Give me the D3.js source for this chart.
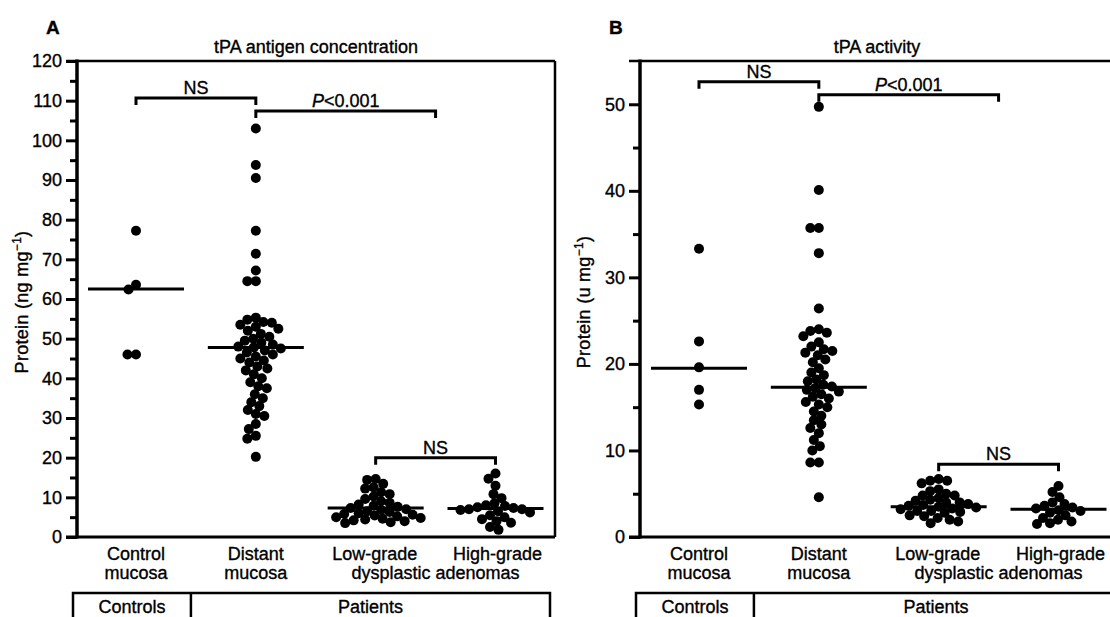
<!DOCTYPE html>
<html><head><meta charset="utf-8">
<script src="https://cdn.jsdelivr.net/npm/d3@7/dist/d3.min.js"></script>
<style>
body{margin:0;background:#fff;}
svg{display:block;font-family:"Liberation Sans",Arial,Helvetica,sans-serif;}
text{fill:#000;stroke:#000;stroke-width:0.35px;}
</style></head>
<body><svg id="chart" width="1110" height="617"></svg>
<script>
// ---------- data ----------
const categories = ["Control mucosa", "Distant mucosa", "Low-grade dysplastic", "High-grade adenomas"];
const catLine1 = ["Control", "Distant", "Low-grade", "High-grade"];
const catLine2 = ["mucosa", "mucosa"];
const adenomaLine2 = "dysplastic adenomas";
const groupLabels = ["Controls", "Patients"];

// Panel A: tPA antigen concentration (ng/mg)
const antigenTicks = [0, 10, 20, 30, 40, 50, 60, 70, 80, 90, 100, 110, 120];
const antigenControl = [77.2, 63.6, 62.4, 46.0, 46.0];
const antigenDistant = [103, 93.8, 90.5, 77.2, 71.4, 67.2, 64.5, 64.5,
  55.3, 54.8, 54.2, 54.0, 53.5, 53.0, 52.5, 52.0, 51.2, 50.5, 50.0, 49.5, 49.0, 48.5, 48.0, 47.8,
  47.5, 47.0, 46.5, 46.0, 45.5, 45.0, 44.5, 44.0, 43.0, 42.5, 42.0, 41.0, 40.0, 39.0, 38.0, 37.5,
  36.0, 35.0, 34.0, 33.0, 32.0, 31.0, 30.5, 28.5, 27.2, 25.5, 24.8, 20.2];
const antigenLow = [14.6, 14.4, 13.4, 12.5, 12.2, 11.3, 10.8, 10.2, 9.6, 9.0, 8.6, 8.2, 7.9, 7.6,
  7.3, 7.0, 6.8, 6.5, 6.3, 6.0, 5.8, 5.6, 5.4, 5.2, 5.0, 4.8, 4.6, 4.4, 4.2, 4.0, 3.7, 3.5];
const antigenHigh = [16.0, 14.7, 12.9, 10.8, 9.8, 8.5, 8.0, 7.8, 7.5, 7.3, 7.0, 7.0, 6.8, 6.5, 6.2,
  5.5, 5.0, 4.5, 4.0, 3.6, 2.5, 1.8];
const antigenMedians = [62.5, 47.8, 7.3, 7.2];

// Panel B: tPA activity (u/mg)
const activityTicks = [0, 10, 20, 30, 40, 50];
const activityControl = [33.3, 22.6, 19.6, 17.0, 15.3];
const activityDistant = [49.7, 40.1, 35.7, 35.7, 32.8, 26.4, 24.0, 23.8, 23.6, 23.2, 22.5, 22.0, 21.7,
  21.5, 21.3, 21.0, 20.5, 20.2, 19.5, 19.0, 18.7, 18.2, 18.0, 17.6, 17.4, 17.2, 17.0, 16.8, 16.5,
  16.2, 16.0, 15.6, 15.3, 15.0, 14.5, 14.0, 13.5, 13.0, 12.6, 12.0, 11.2, 10.5, 10.0, 8.6, 8.6, 4.6];
const activityLow = [6.7, 6.5, 6.5, 6.2, 5.5, 5.3, 5.0, 4.8, 4.8, 4.5, 4.3, 4.2, 4.0, 4.0, 3.8, 3.7,
  3.6, 3.5, 3.4, 3.3, 3.2, 3.0, 3.0, 2.9, 2.8, 2.5, 2.4, 2.2, 2.0, 1.8, 1.6];
const activityHigh = [5.9, 5.2, 4.6, 4.0, 3.8, 3.6, 3.4, 3.3, 3.1, 3.0, 2.8, 2.5, 2.2, 2.0, 1.8,
  1.6, 1.5];
const activityMedians = [19.5, 17.3, 3.5, 3.2];

// significance brackets: [fromIndex, toIndex, level, label]
const antigenBrackets = [[0, 1, 110.7, "NS"], [1, 2.5, 107.4, "P<0.001"], [2, 3, 20.0, "NS"]];
const activityBrackets = [[0, 1, 52.6, "NS"], [1, 2.5, 51.1, "P<0.001"], [2, 3, 8.4, "NS"]];

// ---------- drawing ----------
const svg = d3.select("#chart");
svg.append("rect").attr("width", 1110).attr("height", 617).attr("fill", "#fff");
const FS = 18;

function swarm(values, y, d) {
  const pts = values.map(v => ({v, y: y(v)})).sort((a, b) => a.y - b.y);
  const placed = [];
  pts.forEach(p => {
    for (let k = 0; k < 400; k++) {
      const off = (k % 2 === 0 ? 1 : -1) * Math.ceil(k / 2) * 0.5;
      if (placed.every(q => (q.x - off) ** 2 + (q.y - p.y) ** 2 >= d * d)) { p.x = off; break; }
    }
    placed.push(p);
  });
  return pts;
}

function panel(cfg) {
  const W = 478, top = 61, bottom = 537;
  const g = svg.append("g").attr("transform", `translate(${cfg.left},0)`);
  const y = d3.scaleLinear().domain([0, cfg.max]).range([bottom, top]);
  const x = d3.scalePoint().domain(categories).range([59, 418.5]);
  const xi = i => { const a = Math.floor(i), f = i - a;
    return f === 0 ? x(categories[a]) : x(categories[a]) * (1 - f) + x(categories[a + 1]) * f; };

  // minor ticks
  const minor = d3.range(5, cfg.max, 10);
  g.append("g").call(d3.axisLeft(y).tickValues(minor).tickSize(7).tickFormat("").tickSizeOuter(0))
    .call(s => s.select(".domain").remove())
    .call(s => s.selectAll("line").attr("stroke", "#000").attr("stroke-width", 3));
  // major ticks
  g.append("g").call(d3.axisLeft(y).tickValues(cfg.ticks).tickSize(11).tickPadding(4).tickSizeOuter(0))
    .call(s => s.select(".domain").remove())
    .call(s => s.selectAll("line").attr("stroke", "#000").attr("stroke-width", 3))
    .call(s => s.selectAll("text").attr("font-size", FS).attr("fill", "#000")
      .attr("font-family", '"Liberation Sans",Arial,sans-serif'));

  // frame
  g.append("line").attr("x1", 0).attr("x2", 0).attr("y1", top - 1.5).attr("y2", bottom + 1.5)
    .attr("stroke", "#000").attr("stroke-width", 3.5);
  g.append("line").attr("x1", -11).attr("x2", W).attr("y1", top).attr("y2", top)
    .attr("stroke", "#000").attr("stroke-width", 2.5);
  g.append("line").attr("x1", -11).attr("x2", W).attr("y1", bottom).attr("y2", bottom)
    .attr("stroke", "#000").attr("stroke-width", 3);
  g.append("line").attr("x1", W).attr("x2", W).attr("y1", top).attr("y2", bottom)
    .attr("stroke", "#000").attr("stroke-width", 2.5);

  // points
  cfg.series.forEach((vals, i) => {
    const cx = x(categories[i]);
    g.append("g").selectAll("circle").data(swarm(vals, y, 8.5)).join("circle")
      .attr("cx", d => cx + d.x).attr("cy", d => d.y).attr("r", 5).attr("fill", "#000");
    g.append("line").attr("x1", cx - 48).attr("x2", cx + 48)
      .attr("y1", y(cfg.medians[i])).attr("y2", y(cfg.medians[i]))
      .attr("stroke", "#000").attr("stroke-width", 3);
  });

  // brackets
  cfg.brackets.forEach(([a, b, lv, lab]) => {
    const x1 = xi(a), x2 = xi(b), yy = y(lv);
    g.append("path").attr("d", `M${x1},${yy + 7}V${yy}H${x2}V${yy + 7}`)
      .attr("fill", "none").attr("stroke", "#000").attr("stroke-width", 3);
    const t = g.append("text").attr("x", (x1 + x2) / 2).attr("y", yy - 4)
      .attr("text-anchor", "middle").attr("font-size", FS);
    if (lab.startsWith("P")) {
      t.append("tspan").attr("font-style", "italic").text("P");
      t.append("tspan").text(lab.slice(1));
    } else t.text(lab);
  });

  // title
  g.append("text").attr("x", cfg.titleX).attr("y", 53).attr("text-anchor", "middle")
    .attr("font-size", FS).text(cfg.title);
  // panel letter
  svg.append("text").attr("x", cfg.left - 31).attr("y", 34).attr("font-size", 19)
    .attr("font-weight", "bold").text(cfg.letter);

  // y label
  const yl = g.append("text").attr("transform", `translate(${cfg.ylabX},${(top + bottom) / 2 + 3}) rotate(-90)`)
    .attr("text-anchor", "middle").attr("font-size", FS).attr("letter-spacing", 0.3);
  yl.append("tspan").text(cfg.ylab);
  yl.append("tspan").attr("font-size", 12).attr("dy", -7).text("−1");
  yl.append("tspan").attr("dy", 7).text(")");

  // category labels
  catLine1.forEach((t, i) => {
    const cx = x(categories[i]) + (i === 3 ? 2 : (i === 2 ? -1 : 0));
    g.append("text").attr("x", cx).attr("y", 560).attr("text-anchor", "middle").attr("font-size", FS).text(t);
  });
  catLine2.forEach((t, i) => {
    g.append("text").attr("x", x(categories[i])).attr("y", 579).attr("text-anchor", "middle").attr("font-size", FS).text(t);
  });
  g.append("text").attr("x", xi(2.5)).attr("y", 579).attr("text-anchor", "middle").attr("font-size", FS).text(adenomaLine2);

  // group box
  const gl = -4, sep = xi(0.5) - 5, gr = cfg.groupRight;
  g.append("path").attr("d", `M${gl},617V593H${gr}V617`).attr("fill", "none").attr("stroke", "#000").attr("stroke-width", 2.5);
  g.append("line").attr("x1", sep).attr("x2", sep).attr("y1", 593).attr("y2", 617).attr("stroke", "#000").attr("stroke-width", 2.5);
  g.append("text").attr("x", (gl + sep) / 2).attr("y", 613).attr("text-anchor", "middle").attr("font-size", FS).text(groupLabels[0]);
  g.append("text").attr("x", (sep + Math.min(gr, 478)) / 2).attr("y", 613).attr("text-anchor", "middle").attr("font-size", FS).text(groupLabels[1]);
}

panel({left: 77, max: 120, ticks: antigenTicks, series: [antigenControl, antigenDistant, antigenLow, antigenHigh],
  medians: antigenMedians, brackets: antigenBrackets, title: "tPA antigen concentration", titleX: 239,
  letter: "A", ylab: "Protein (ng mg", ylabX: -49, groupRight: 473});
panel({left: 640, max: 55, ticks: activityTicks, series: [activityControl, activityDistant, activityLow, activityHigh],
  medians: activityMedians, brackets: activityBrackets, title: "tPA activity", titleX: 237,
  letter: "B", ylab: "Protein (u mg", ylabX: -50, groupRight: 500});
</script></body></html>
